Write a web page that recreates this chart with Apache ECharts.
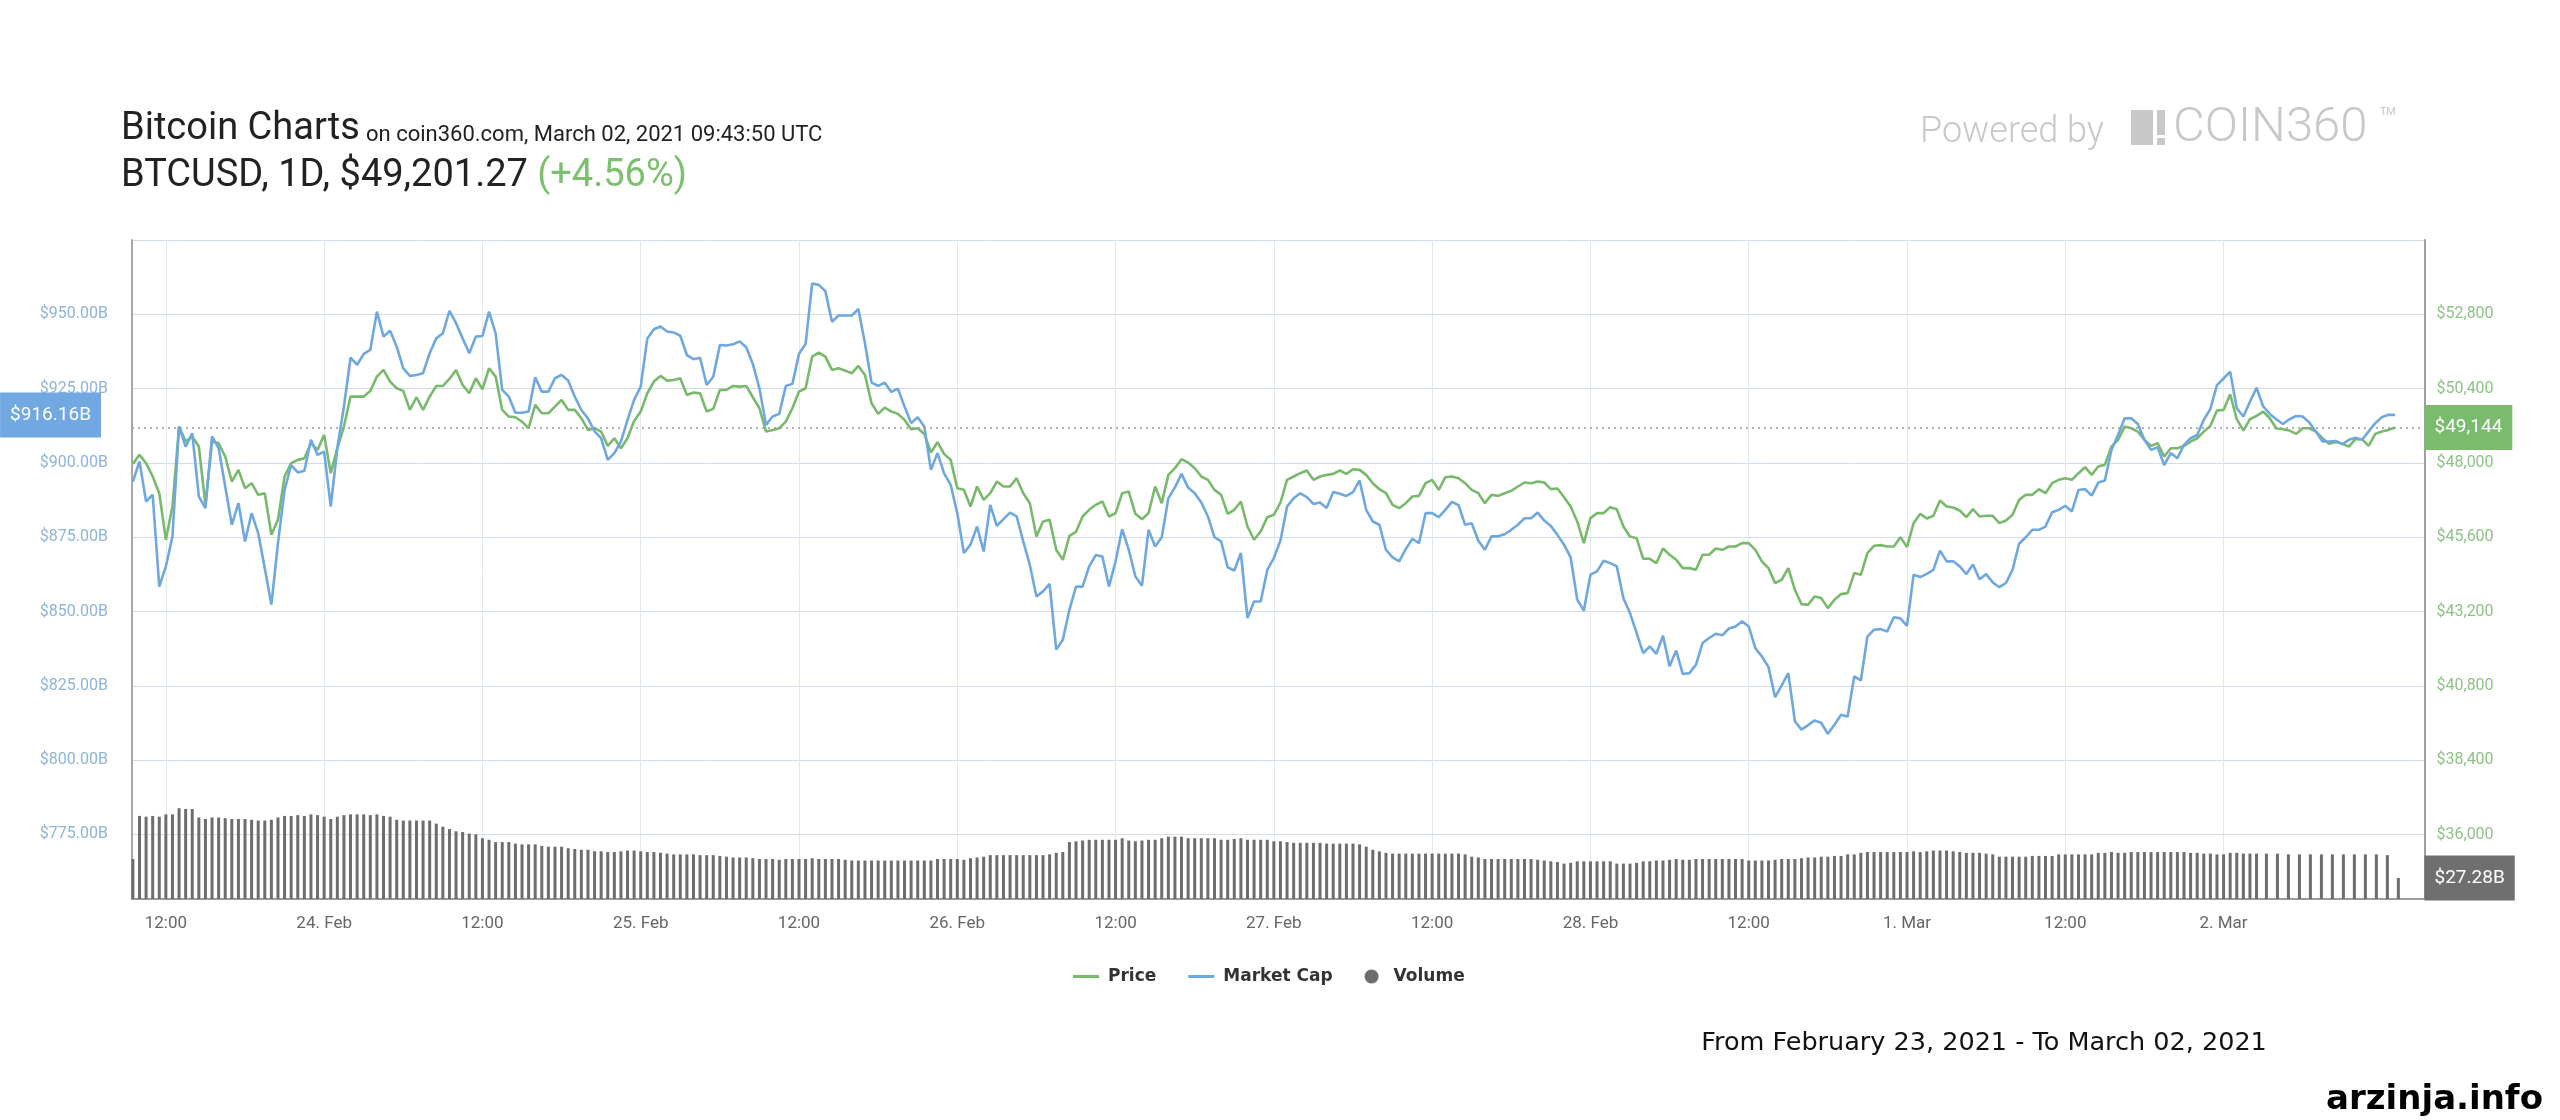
<!DOCTYPE html>
<html><head><meta charset="utf-8">
<script src="https://cdn.jsdelivr.net/npm/echarts@6/dist/echarts.min.js"></script>
<style>html,body{margin:0;padding:0;background:#fff}#c{width:2560px;height:1120px}</style>
</head><body><div id="c"></div>
<script>
// ---- x in hours since 23 Feb 2021 00:00 (chart local time); 30-minute samples ----
const DAY0 = Date.UTC(2021, 1, 23);
const START_H = 9.5;
const STEP_H = 0.5;
const AXIS_MIN_H = 9.433;     // 23 Feb 09:26
const AXIS_MAX_H = 183.233;   // 2 Mar 15:14
const MONTHS = ['Jan','Feb','Mar','Apr','May','Jun','Jul','Aug','Sep','Oct','Nov','Dec'];

// ---- x-axis tick positions (hours): 23 Feb 12:00 ... 2 Mar 00:00 ----
const xTickHours = [12, 24, 36, 48, 60, 72, 84, 96, 108, 120, 132, 144, 156, 168];

// ---- Price (USD), 30-min samples ----
const priceUSD = [
47970,48261,47992,47561,47023,45518,46593,49175,48691,48852,
48529,46647,48691,48637,48207,47400,47776,47185,47346,46970,
47023,45679,46163,47561,47992,48099,48153,48637,48422,48906,
47669,48476,49175,50143,50143,50143,50326,50788,51004,50627,
50412,50326,49713,50122,49713,50143,50487,50487,50713,51004,
50519,50251,50735,50380,51057,50788,49713,49498,49476,49336,
49121,49874,49605,49605,49820,50035,49713,49713,49444,49067,
49121,49014,48551,48798,48476,48798,49358,49659,50251,50627,
50810,50659,50680,50735,50197,50272,50251,49659,49745,50358,
50358,50487,50466,50487,50122,49767,49014,49067,49121,49336,
49767,50304,50412,51434,51563,51434,51004,51057,50982,50896,
51133,50842,49928,49584,49788,49659,49584,49390,49089,49121,
48938,48336,48669,48293,48099,47185,47131,46593,47239,46808,
47023,47400,47239,47239,47508,47023,46701,45625,46109,46163,
45195,44872,45647,45776,46270,46486,46647,46755,46270,46378,
47023,47077,46357,46184,46378,47239,46701,47615,47830,48121,
48013,47830,47561,47454,47131,46970,46357,46486,46755,45948,
45518,45786,46249,46324,46722,47454,47561,47669,47755,47454,
47561,47615,47647,47755,47647,47798,47776,47615,47346,47153,
47023,46647,46539,46701,46916,46937,47346,47454,47131,47540,
47561,47508,47346,47131,47023,46701,46970,46937,47023,47099,
47239,47368,47346,47400,47368,47153,47174,46894,46593,46109,
45410,46217,46378,46378,46572,46507,45948,45625,45571,44904,
44904,44765,45238,45033,44872,44603,44603,44549,45033,45033,
45238,45195,45302,45302,45410,45410,45195,44818,44603,44119,
44227,44603,43904,43441,43420,43689,43635,43312,43581,43764,
43796,44442,44388,45087,45324,45345,45302,45302,45604,45281,
46055,46357,46206,46292,46787,46593,46561,46464,46249,46507,
46270,46292,46292,46055,46141,46324,46808,46970,46970,47153,
47023,47346,47454,47508,47454,47669,47863,47615,47884,47938,
48529,48745,49175,49121,49014,48745,48551,48637,48207,48476,
48476,48551,48691,48798,49014,49196,49691,49713,50218,49412,
49046,49412,49519,49659,49444,49110,49089,49046,48938,49121,
49121,49014,48798,48616,48680,48616,48529,48766,48766,48551,
48938,49014,49067,49144
];

// ---- Market cap (billion USD), 30-min samples ----
const marketCapB = [
893.7,900.5,887.0,889.3,858.4,865.2,875.3,912.2,905.5,910.0,
888.7,884.8,908.9,905.0,892.1,879.2,886.5,873.6,883.1,876.4,
864.6,852.3,873.0,890.9,899.3,896.8,897.4,907.8,902.7,903.8,
885.3,905.0,919.0,935.4,933.0,936.7,938.0,950.9,942.5,944.5,
939.1,931.8,929.3,929.6,930.2,936.9,941.9,943.6,951.2,947.0,
941.9,936.9,942.5,942.7,950.9,943.6,924.6,922.3,916.9,916.9,
917.3,928.8,924.0,924.0,928.5,929.6,927.7,922.3,917.8,915.0,
910.6,908.3,901.0,903.3,907.2,914.5,921.2,925.7,941.9,945.0,
945.9,944.2,943.9,942.8,936.3,934.9,935.4,926.2,929.0,939.7,
939.5,939.9,940.9,938.9,933.3,925.1,912.8,915.6,916.5,925.9,
926.6,936.7,940.0,960.4,959.9,957.8,947.5,949.6,949.6,949.6,
951.8,940.3,927.0,925.9,927.0,923.9,925.0,919.0,913.4,915.4,
912.2,897.7,903.3,896.5,892.6,883.1,869.7,872.5,878.6,870.2,
885.9,878.8,881.1,883.3,882.0,873.6,865.7,855.1,856.8,859.3,
837.2,840.5,850.6,858.4,858.4,865.2,869.0,868.5,858.4,866.9,
877.7,870.8,861.8,858.7,877.5,871.9,875.0,888.1,891.8,896.3,
891.7,889.8,886.7,882.0,875.0,873.6,864.9,863.8,869.7,847.8,
853.4,853.4,864.0,868.0,873.9,885.3,888.1,889.8,888.5,886.2,
886.7,884.8,890.2,889.6,888.9,890.2,894.1,884.2,880.3,879.2,
870.8,868.2,866.9,871.0,874.5,873.0,883.1,883.1,881.8,884.2,
886.9,885.8,879.2,879.7,873.8,870.8,875.3,875.3,876.0,877.5,
879.2,881.4,881.4,883.3,880.6,878.8,875.8,872.5,868.2,854.0,
850.3,862.4,863.5,867.1,866.3,865.2,854.5,849.5,842.8,836.0,
838.3,835.8,841.9,831.6,836.9,829.0,829.3,832.1,839.4,841.1,
842.5,842.0,844.3,845.0,846.7,845.0,837.7,834.9,831.3,821.2,
825.2,829.3,813.1,810.3,811.8,813.4,812.5,808.9,811.9,815.3,
814.7,828.2,826.8,841.6,843.9,844.1,843.3,848.1,847.7,845.2,
862.4,861.6,862.7,864.0,870.5,866.9,866.9,865.2,862.6,865.8,
860.9,862.6,859.8,858.2,859.6,864.0,872.8,875.0,877.5,877.5,
878.6,883.4,884.2,885.6,883.7,890.9,891.2,889.0,893.4,894.1,
904.4,909.4,915.0,915.0,913.1,907.8,904.4,905.3,899.3,903.3,
901.6,906.1,908.3,909.4,914.5,918.2,926.2,928.4,930.7,918.4,
915.6,920.6,925.3,919.0,916.5,914.7,913.1,914.7,915.8,915.6,
913.6,910.6,907.2,907.2,907.4,906.3,907.8,908.5,907.8,910.6,
913.4,915.4,916.2,916.16
];

// ---- Volume (billion USD), 30-min samples, then a sparser tail ----
const volumeB = [
52,108,107,108,107,110,110,118,117,117,
106,104,106,106,105,104,104,104,103,102,
102,103,106,108,108,109,108,110,109,107,
104,107,109,110,110,110,109,110,108,107,
103,102,102,102,102,102,98,94,91,88,
87,85,84,79,77,74,74,74,72,71,
71,71,69,68,68,68,66,65,64,64,
62,62,61,61,62,63,63,62,61,61,
60,59,58,58,58,58,57,57,57,56,
55,54,54,54,53,52,52,52,51,52,
52,52,52,53,52,52,52,52,51,50,
50,50,50,50,50,50,50,50,50,50,
50,50,52,52,52,52,51,53,54,55,
57,57,57,57,57,57,57,57,57,58,
60,61,74,75,76,77,77,77,77,77,
79,76,75,76,77,77,79,81,81,81,
79,79,79,79,79,77,77,78,79,77,
77,77,77,75,75,74,73,73,73,73,
73,72,72,72,72,72,71,68,64,62,
60,59,59,59,59,59,59,59,59,59,
59,59,58,55,54,52,52,52,52,52,
52,52,52,51,50,49,48,46,47,49,
49,49,49,49,49,46,46,46,47,49,
49,50,50,51,52,51,51,52,52,52,
52,52,52,52,52,50,50,50,50,51,
52,52,52,53,54,54,55,55,56,56,
58,58,60,61,61,61,61,61,61,61,
62,61,62,63,63,63,62,61,60,60,
60,59,58,55,55,55,55,55,56,56,
56,56,58,58,58,58,58,58,60,60,
61,60,60,61,61,61,61,61,61,61,
61,61,60,60,59,59,58,58,60,60,
59,59,59
];
const VOL_TAIL_START_H = 171.25;      // 2 Mar 03:15
const VOL_TAIL_STEP_H = 50 / 60;
const volumeTailB = [59,59,58,58,58,58,58,58,58,58,58,57,27.28];

// ---- colours ----
const GREEN = '#78b96c', BLUE = '#6fa8df', GRAY = '#6d6d6d';
const CLEAR = 'rgba(0,0,0,0)';

function thousands(v) { return String(Math.round(v)).replace(/\B(?=(\d{3})+(?!\d))/g, ','); }
function hourLabel(h) {
  const hr = ((h % 24) + 24) % 24;
  if (Math.abs(hr - 12) < 1e-6) return '12:00';
  if (hr < 1e-6 || hr > 24 - 1e-6) {
    const d = new Date(DAY0 + Math.round(h) * 3600 * 1000);
    return d.getUTCDate() + '. ' + MONTHS[d.getUTCMonth()];
  }
  return '';
}

const priceData = priceUSD.map((v, i) => [START_H + i * STEP_H, v]);
const mcData = marketCapB.map((v, i) => [START_H + i * STEP_H, v]);
const volData = volumeB.map((v, i) => [START_H + i * STEP_H, v])
  .concat(volumeTailB.map((v, i) => [VOL_TAIL_START_H + i * VOL_TAIL_STEP_H, v]));

const lastPrice = priceUSD[priceUSD.length - 1];
const lastMC = marketCapB[marketCapB.length - 1];
const lastVol = volumeTailB[volumeTailB.length - 1];

const boxLabel = (pos, dist, bg, fmt) => ({
  show: true, position: pos, distance: dist, formatter: fmt,
  color: '#fff', fontSize: 19, fontFamily: 'Roboto', opacity: 1,
  backgroundColor: bg, padding: [13, 10, 13, 10]
});

const LINE_ICON = 'path://M0,0 L26,0 L26,3 L0,3 Z';

const chart = echarts.init(document.getElementById('c'), null, { renderer: 'canvas' });
chart.setOption({
  animation: false,
  backgroundColor: '#ffffff',
  textStyle: { fontFamily: 'Roboto' },
  grid: { left: 132, right: 135.5, top: 240, bottom: 221, containLabel: false, outerBoundsMode: 'none' },
  legend: {
    left: 1068, top: 963, itemWidth: 26, itemHeight: 14, itemGap: 32, selectedMode: false,
    symbolKeepAspect: true,
    textStyle: { fontFamily: 'DejaVu Sans', fontWeight: 'bold', fontSize: 17, color: '#333', padding: [0, 0, 0, 4] },
    data: [
      { name: 'Price', icon: LINE_ICON },
      { name: 'Market Cap', icon: LINE_ICON },
      { name: 'Volume', icon: 'circle' }
    ]
  },
  xAxis: {
    type: 'value', min: AXIS_MIN_H, max: AXIS_MAX_H,
    axisLine: { onZero: false, lineStyle: { color: '#9c9c9c', width: 2 } },
    axisTick: { show: false, customValues: xTickHours },
    axisLabel: {
      customValues: xTickHours, showMinLabel: true, showMaxLabel: true,
      color: '#666', fontSize: 17, margin: 16, fontFamily: 'Roboto',
      formatter: v => hourLabel(v)
    },
    splitLine: { show: true, lineStyle: { color: '#e4e9ef', width: 1 } }
  },
  yAxis: [
    {
      type: 'value', position: 'left', min: 753.3, max: 975, minInterval: 25, maxInterval: 25,
      axisLine: { show: true, lineStyle: { color: '#a8a8a8', width: 2 } },
      axisTick: { show: false },
      axisLabel: {
        color: '#8fb4d8', fontSize: 16, margin: 24, fontFamily: 'Roboto',
        formatter: v => (Math.abs(v / 25 - Math.round(v / 25)) < 1e-6 && v < 974.9) ? '$' + v.toFixed(2) + 'B' : ''
      },
      splitLine: { show: true, lineStyle: { color: '#d3dde8', width: 1 } }
    },
    {
      type: 'value', position: 'right', min: 33917, max: 55200, minInterval: 2400, maxInterval: 2400,
      axisLine: { show: true, lineStyle: { color: '#a0a0a0', width: 2 } },
      axisTick: { show: false },
      axisLabel: {
        color: '#8dc386', fontSize: 16, margin: 12, fontFamily: 'Roboto',
        formatter: v => (Math.abs(v / 2400 - Math.round(v / 2400)) < 1e-6 && v < 55199) ? '$' + thousands(v) : ''
      },
      splitLine: { show: false }
    },
    { type: 'value', min: 0, max: 856.7, show: false }
  ],
  series: [
    {
      name: 'Price', type: 'line', yAxisIndex: 1, data: priceData, symbol: 'none', clip: false,
      color: GREEN, lineStyle: { color: GREEN, width: 2.6 }, emphasis: { disabled: true },
      markLine: {
        silent: true, symbol: ['none', 'none'], animation: false,
        lineStyle: { type: [2, 4], color: '#9a9a9a', width: 1.5 },
        label: boxLabel('end', 0, '#7abb6e', p => '$' + thousands(p.value)),
        emphasis: { disabled: true },
        data: [{ yAxis: lastPrice }]
      }
    },
    {
      name: 'Market Cap', type: 'line', yAxisIndex: 0, data: mcData, symbol: 'none', clip: false,
      color: BLUE, lineStyle: { color: BLUE, width: 2.6 }, emphasis: { disabled: true },
      markLine: {
        silent: true, symbol: ['none', 'none'], animation: false,
        lineStyle: { color: CLEAR, width: 1, type: 'solid' },
        label: boxLabel('start', 31, '#71a8e1', p => '$' + p.value.toFixed(2) + 'B'),
        emphasis: { disabled: true },
        data: [{ yAxis: lastMC }]
      }
    },
    {
      name: 'Volume', type: 'bar', yAxisIndex: 2, data: volData, barWidth: 3, clip: false,
      color: GRAY, itemStyle: { color: GRAY }, emphasis: { disabled: true },
      markLine: {
        silent: true, symbol: ['none', 'none'], animation: false,
        lineStyle: { color: CLEAR, width: 1, type: 'solid' },
        label: boxLabel('end', 0, '#6f6f6f', p => '$' + p.value.toFixed(2) + 'B'),
        emphasis: { disabled: true },
        data: [{ yAxis: lastVol }]
      }
    }
  ],
  graphic: [
    { type: 'text', x: 121, y: 129.5, style: { text: 'Bitcoin Charts', font: '38px Roboto', fill: '#222', align: 'left', verticalAlign: 'middle' } },
    { type: 'text', x: 366, y: 135, style: { text: 'on coin360.com, March 02, 2021 09:43:50 UTC', font: '22px Roboto', fill: '#222', align: 'left', verticalAlign: 'middle' } },
    { type: 'text', x: 121, y: 176, style: { text: '{a|BTCUSD, 1D, $49,201.27 }{g|(+4.56%)}', font: '38px Roboto', fill: '#222', align: 'left', verticalAlign: 'middle', rich: { a: { fill: '#222' }, g: { fill: '#7cbf6e' } } } },
    { type: 'text', x: 1920, y: 133, style: { text: 'Powered by', font: '300 36px Roboto', fill: '#c8c8c8', align: 'left', verticalAlign: 'middle' } },
    { type: 'rect', shape: { x: 2131, y: 110, width: 22, height: 35 }, style: { fill: '#c8c8c8' } },
    { type: 'rect', shape: { x: 2157, y: 110, width: 8, height: 25 }, style: { fill: '#c8c8c8' } },
    { type: 'rect', shape: { x: 2157, y: 138, width: 8, height: 7 }, style: { fill: '#c8c8c8' } },
    { type: 'text', x: 2173, y: 129, style: { text: 'COIN360', font: '300 49px Roboto', fill: '#c8c8c8', align: 'left', verticalAlign: 'middle' } },
    { type: 'text', x: 2379, y: 120, style: { text: '\u2122', font: '300 30px Roboto', fill: '#c8c8c8', align: 'left', verticalAlign: 'middle' } },
    { type: 'text', x: 1984, y: 1043, style: { text: 'From February 23, 2021 - To March 02, 2021', font: '25.5px "DejaVu Sans"', fill: '#111', align: 'center', verticalAlign: 'middle' } },
    { type: 'text', x: 2543, y: 1100, style: { text: 'arzinja.info', font: 'bold 34px "DejaVu Sans"', fill: '#000', align: 'right', verticalAlign: 'middle' } }
  ]
});
</script>
</body></html>
